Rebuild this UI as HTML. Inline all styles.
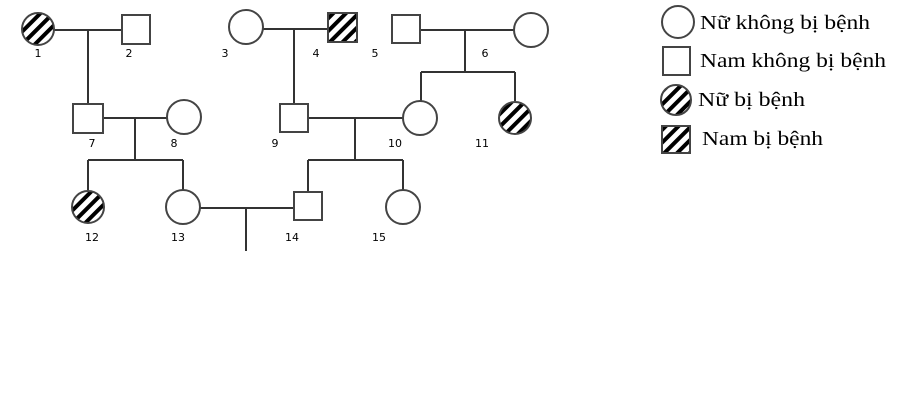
<!DOCTYPE html>
<html><head><style>
html,body{margin:0;padding:0;background:#fff;width:906px;height:401px;overflow:hidden}
</style></head><body>
<svg width="906" height="401" viewBox="0 0 906 401" xmlns="http://www.w3.org/2000/svg">
<defs>
<pattern id="h" patternUnits="userSpaceOnUse" width="9" height="9" patternTransform="rotate(45)">
<rect x="0" y="0" width="4" height="9" fill="#000"/>
</pattern>
</defs>
<g stroke="#333" stroke-width="2" fill="none">
<line x1="54" y1="30" x2="122" y2="30"/><line x1="88" y1="30" x2="88" y2="104"/>
<line x1="263" y1="29" x2="328" y2="29"/><line x1="294" y1="29" x2="294" y2="104"/>
<line x1="420" y1="30" x2="514" y2="30"/><line x1="465" y1="30" x2="465" y2="72"/>
<line x1="421" y1="72" x2="515" y2="72"/><line x1="421" y1="72" x2="421" y2="101"/><line x1="515" y1="72" x2="515" y2="101"/>
<line x1="103" y1="118" x2="167" y2="118"/><line x1="135" y1="118" x2="135" y2="160"/>
<line x1="88" y1="160" x2="183" y2="160"/><line x1="88" y1="160" x2="88" y2="190"/><line x1="183" y1="160" x2="183" y2="190"/>
<line x1="308" y1="118" x2="403" y2="118"/><line x1="355" y1="118" x2="355" y2="160"/>
<line x1="308" y1="160" x2="403" y2="160"/><line x1="308" y1="160" x2="308" y2="192"/><line x1="403" y1="160" x2="403" y2="190"/>
<line x1="200" y1="208" x2="294" y2="208"/><line x1="246" y1="208" x2="246" y2="251"/>
</g>
<g stroke="#444" stroke-width="2" fill="#fff">
<circle cx="38" cy="29" r="16" fill="url(#h)"/>
<rect x="122" y="15" width="28" height="29"/>
<circle cx="246" cy="27" r="17"/>
<rect x="328" y="13" width="29" height="29" fill="url(#h)"/>
<rect x="392" y="15" width="28" height="28"/>
<circle cx="531" cy="30" r="17"/>
<rect x="73" y="104" width="30" height="29"/>
<circle cx="184" cy="117" r="17"/>
<rect x="280" y="104" width="28" height="28"/>
<circle cx="420" cy="118" r="17"/>
<circle cx="515" cy="118" r="16" fill="url(#h)"/>
<circle cx="88" cy="207" r="16" fill="url(#h)"/>
<circle cx="183" cy="207" r="17"/>
<rect x="294" y="192" width="28" height="28"/>
<circle cx="403" cy="207" r="17"/>
<circle cx="678" cy="22" r="16"/>
<rect x="663" y="47" width="27" height="28"/>
<circle cx="676" cy="100" r="15" fill="url(#h)"/>
<rect x="662" y="126" width="28" height="27" fill="url(#h)"/>
</g>
<g font-family="DejaVu Sans, sans-serif" font-size="11" fill="#000" text-anchor="middle">
<text x="38" y="57">1</text><text x="129" y="57">2</text><text x="225" y="57">3</text>
<text x="316" y="57">4</text><text x="375" y="57">5</text><text x="485" y="57">6</text>
<text x="92" y="147">7</text><text x="174" y="147">8</text><text x="275" y="147">9</text>
<text x="395" y="147">10</text><text x="482" y="147">11</text>
<text x="92" y="241">12</text><text x="178" y="241">13</text><text x="292" y="241">14</text><text x="379" y="241">15</text>
</g>
<g font-family="Liberation Serif, serif" font-size="20" fill="#000">
<text x="700" y="29" textLength="170" lengthAdjust="spacingAndGlyphs">Nữ không bị bệnh</text>
<text x="700" y="67" textLength="186" lengthAdjust="spacingAndGlyphs">Nam không bị bệnh</text>
<text x="698" y="106" textLength="107" lengthAdjust="spacingAndGlyphs">Nữ bị bệnh</text>
<text x="702" y="145" textLength="121" lengthAdjust="spacingAndGlyphs">Nam bị bệnh</text>
</g>
</svg>
</body></html>
